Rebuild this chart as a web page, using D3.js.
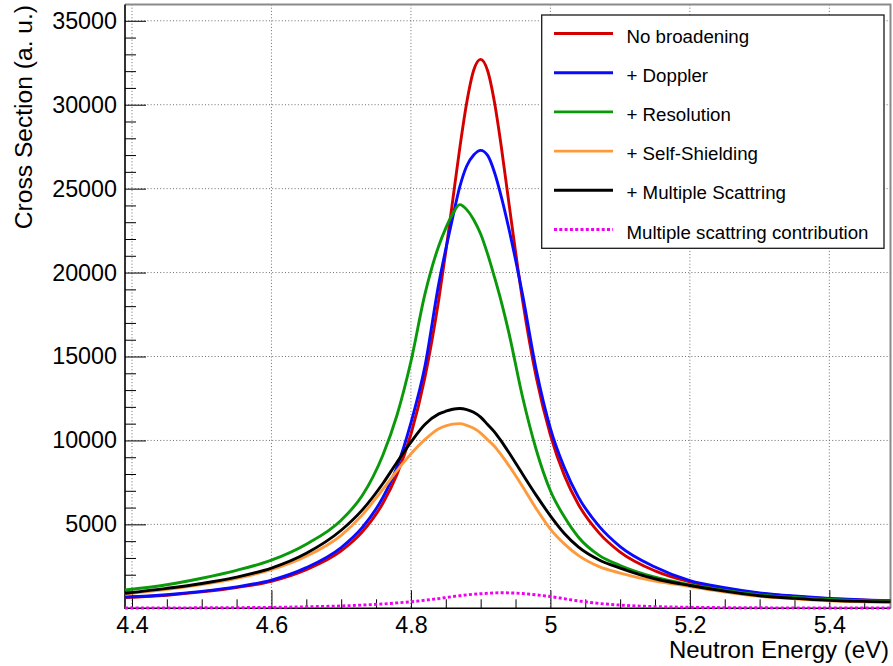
<!DOCTYPE html>
<html>
<head>
<meta charset="utf-8">
<script src="https://cdn.jsdelivr.net/npm/d3@7"></script>
<style>
  html, body { margin: 0; padding: 0; background: #fff; }
  svg { display: block; }
  text { font-family: "Liberation Sans", Arial, Helvetica, sans-serif; fill: #000; }
</style>
</head>
<body>
<svg id="chart" width="893" height="666"></svg>
<script>
// Neutron energy grid (eV)
const energy = [4.39, 4.45, 4.50, 4.55, 4.60, 4.65, 4.70, 4.73, 4.76, 4.78,
  4.80, 4.82, 4.84, 4.85, 4.86, 4.87, 4.88, 4.89, 4.90, 4.91,
  4.92, 4.93, 4.94, 4.96, 4.98, 5.00, 5.02, 5.04, 5.07, 5.10,
  5.15, 5.20, 5.25, 5.30, 5.35, 5.40, 5.4877];

// Cross sections (a. u.) for each stage of the calculation
const noBroadening = [640, 780, 975, 1240, 1610, 2300, 3420, 4540, 6270, 7980,
  10370, 13740, 18410, 21250, 24320, 27400, 30120, 32050, 32700, 32020,
  30100, 27380, 24300, 18380, 13700, 10320, 7920, 6200, 4480, 3350,
  2230, 1570, 1150, 880, 700, 570, 440];

const doppler = [670, 810, 1010, 1280, 1680, 2420, 3620, 4800, 6620, 8420,
  11050, 14400, 19350, 21400, 23300, 25100, 26350, 27000, 27280, 26980,
  25950, 24450, 22700, 18700, 14150, 10720, 8380, 6640, 4880, 3680,
  2460, 1650, 1230, 920, 730, 590, 460];

const resolution = [1090, 1400, 1790, 2260, 2870, 3820, 5250, 6700, 9150, 11500,
  14700, 18700, 21600, 22650, 23500, 24050, 23750, 23150, 22300, 21100,
  19700, 18200, 16500, 12600, 9400, 7000, 5450, 4250, 3150, 2550,
  1850, 1400, 1060, 800, 640, 530, 420];

const selfShielding = [850, 1130, 1420, 1790, 2300, 3100, 4350, 5550, 7100, 8200,
  9200, 10050, 10700, 10870, 10970, 11000, 10900, 10720, 10440, 10040,
  9640, 9110, 8530, 7260, 5920, 4720, 3840, 3150, 2480, 2100,
  1620, 1300, 970, 720, 570, 450, 360];

const multipleScattering = [900, 1190, 1480, 1860, 2400, 3280, 4650, 5850, 7450, 8700,
  9900, 10950, 11580, 11740, 11860, 11900, 11840, 11680, 11390, 10950,
  10500, 9930, 9310, 8000, 6710, 5510, 4460, 3660, 2880, 2400,
  1760, 1360, 1020, 750, 590, 470, 380];

const msContribution = [20, 25, 30, 40, 55, 90, 140, 190, 260, 320,
  390, 480, 580, 640, 700, 750, 800, 840, 870, 895,
  915, 925, 920, 880, 800, 700, 570, 440, 290, 190,
  100, 60, 40, 30, 25, 20, 20];

const seriesLabels = ["No broadening", "+ Doppler", "+ Resolution",
  "+ Self-Shielding", "+ Multiple Scattring", "Multiple scattring contribution"];

// Axis ticks
const xMajorTicks = [4.4, 4.6, 4.8, 5.0, 5.2, 5.4];
const xTickLabels = ["4.4", "4.6", "4.8", "5", "5.2", "5.4"];
const yMajorTicks = [5000, 10000, 15000, 20000, 25000, 30000, 35000];
const yTickLabels = ["5000", "10000", "15000", "20000", "25000", "30000", "35000"];

// Presentation
const series = [
  { values: noBroadening, color: "#d40000", dash: null },
  { values: doppler, color: "#0a0aff", dash: null },
  { values: resolution, color: "#0a990a", dash: null },
  { values: selfShielding, color: "#ff9a3c", dash: null },
  { values: multipleScattering, color: "#000000", dash: null },
  { values: msContribution, color: "#f000f0", dash: "3,2.3" }
];

const svg = d3.select("#chart");
const W = 893, H = 666;
const frame = { left: 125, right: 890.5, top: 4.5, bottom: 608.3 };
const fontTick = 23.3, fontTitle = 24, fontYTitle = 24.6, fontLegend = 18.7;

svg.append("rect").attr("width", W).attr("height", H).attr("fill", "#fff");

const x = d3.scaleLinear().domain([4.39, 5.4877]).range([frame.left, frame.right]);
const y = d3.scaleLinear().domain([0, 35970]).range([frame.bottom, frame.top]);

// Grid
const grid = svg.append("g").attr("stroke", "#6e6e6e").attr("stroke-width", 1)
  .attr("stroke-dasharray", "1,2.2");
grid.selectAll("line.vx").data(xMajorTicks).join("line")
  .attr("x1", d => x(d)).attr("x2", d => x(d))
  .attr("y1", frame.top).attr("y2", frame.bottom);
grid.selectAll("line.hy").data(yMajorTicks).join("line")
  .attr("x1", frame.left).attr("x2", frame.right)
  .attr("y1", d => y(d)).attr("y2", d => y(d));

// Frame top / right edges
svg.append("path")
  .attr("d", `M${frame.left},${frame.top}H${frame.right}V${frame.bottom}`)
  .attr("fill", "none").attr("stroke", "#8a8a8a").attr("stroke-width", 2);

// X axis
const xMinor = d3.range(4.40, 5.4601, 0.05).map(v => +v.toFixed(2))
  .filter(v => !xMajorTicks.some(m => Math.abs(m - v) < 1e-6));
const xAxisMinor = svg.append("g").attr("transform", `translate(0,${frame.bottom})`)
  .call(d3.axisBottom(x).tickValues(xMinor).tickSize(-9).tickFormat(""));
const xAxis = svg.append("g").attr("transform", `translate(0,${frame.bottom})`)
  .call(d3.axisBottom(x).tickValues(xMajorTicks).tickSize(-18).tickPadding(8)
    .tickFormat((d, i) => xTickLabels[i]));

// Y axis
const yMinor = d3.range(1000, 35001, 1000).filter(v => v % 5000 !== 0);
const yAxisMinor = svg.append("g").attr("transform", `translate(${frame.left},0)`)
  .call(d3.axisLeft(y).tickValues(yMinor).tickSize(-11).tickFormat(""));
const yAxis = svg.append("g").attr("transform", `translate(${frame.left},0)`)
  .call(d3.axisLeft(y).tickValues(yMajorTicks).tickSize(-21).tickPadding(8)
    .tickFormat((d, i) => yTickLabels[i]));

[xAxisMinor, xAxis, yAxisMinor, yAxis].forEach(g => {
  g.select(".domain").remove();
  g.selectAll(".tick line").attr("stroke", "#000").attr("stroke-width", 1);
  g.selectAll("text").attr("font-size", fontTick)
    .attr("font-family", '"Liberation Sans", Arial, sans-serif').attr("fill", "#000");
});

// Axis lines
svg.append("path")
  .attr("d", `M${frame.left},${frame.top}V${frame.bottom}H${frame.right}`)
  .attr("fill", "none").attr("stroke", "#000").attr("stroke-width", 1.6);

// Curves
const line = d3.line()
  .x((d, i) => x(energy[i]))
  .y(d => y(d))
  .curve(d3.curveMonotoneX);

svg.append("g").selectAll("path").data(series).join("path")
  .attr("d", s => line(s.values))
  .attr("fill", "none")
  .attr("stroke", s => s.color)
  .attr("stroke-width", 2.9)
  .attr("stroke-linejoin", "round")
  .attr("stroke-dasharray", s => s.dash);

// Axis titles
svg.append("text")
  .attr("x", 889).attr("y", 657.5)
  .attr("text-anchor", "end").attr("font-size", fontTitle)
  .text("Neutron Energy (eV)");
svg.append("text")
  .attr("transform", "translate(31.5,5) rotate(-90)")
  .attr("text-anchor", "end").attr("font-size", fontYTitle)
  .text("Cross Section (a. u.)");

// Legend
const legend = svg.append("g");
legend.append("rect")
  .attr("x", 541.7).attr("y", 15).attr("width", 342.3).attr("height", 233.3)
  .attr("fill", "#fff").attr("stroke", "#1a1a1a").attr("stroke-width", 1.3);
const rowY = d3.scaleLinear().domain([0, seriesLabels.length - 1]).range([33.5, 229.5]);
const rows = legend.selectAll("g.row").data(series).join("g")
  .attr("transform", (d, i) => `translate(0,${rowY(i)})`);
rows.append("line")
  .attr("x1", 554).attr("x2", 613).attr("y1", 0).attr("y2", 0)
  .attr("stroke", s => s.color).attr("stroke-width", 2.9)
  .attr("stroke-dasharray", s => s.dash);
rows.append("text")
  .attr("x", 626.5).attr("y", 9)
  .attr("font-size", fontLegend)
  .text((d, i) => seriesLabels[i]);
</script>
</body>
</html>
